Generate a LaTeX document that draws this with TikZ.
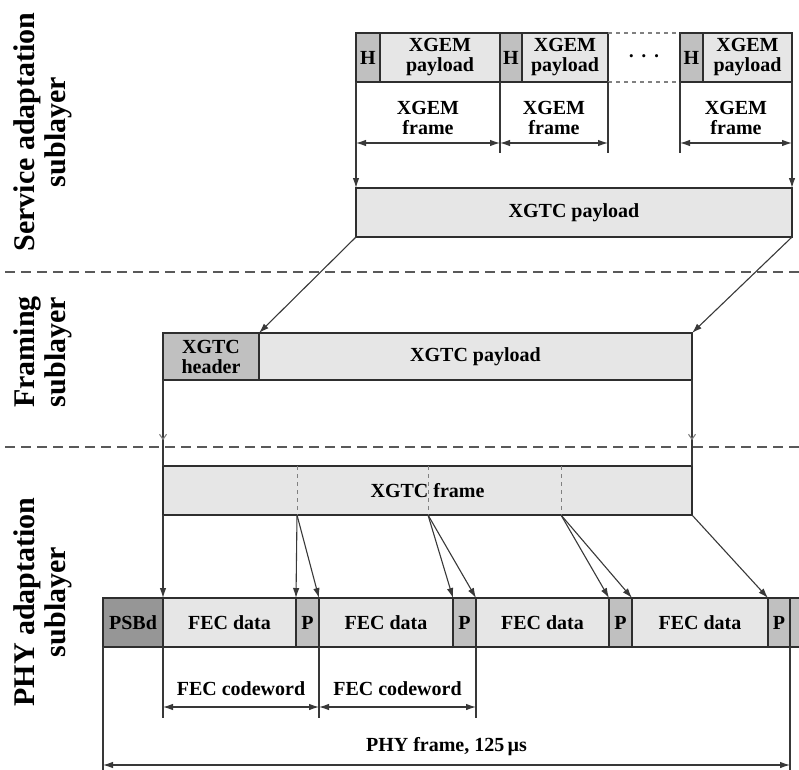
\documentclass[tikz,border=0pt]{standalone}
\usepackage{fontspec}
\setmainfont{Liberation Serif}
\usetikzlibrary{arrows.meta,positioning,decorations.markings}
\definecolor{seglight}{RGB}{230,230,230}
\definecolor{segmid}{RGB}{192,192,192}
\definecolor{segdark}{RGB}{150,150,150}

\begin{document}
\begin{tikzpicture}[
      x=1pt, y=-1pt,
      node distance=0pt,
      seg/.style={draw=black!82, line width=2pt, fill=seglight, inner sep=0pt, outer sep=0pt,
        minimum height=49pt, align=center, font=\fontsize{20}{20}\selectfont\bfseries},
      seghd/.style={seg, fill=segmid},
      segpre/.style={seg, fill=segdark},
      lbl/.style={inner sep=0pt, align=center, font=\fontsize{20}{20}\selectfont\bfseries},
      layer/.style={rotate=90, inner sep=0pt, align=center, font=\fontsize{30}{31}\selectfont\bfseries},
      conn/.style={draw=black!78, line width=1.1pt},
      arr/.style={conn, -{Latex[length=10pt,width=6.5pt]}},
      dimarr/.style={conn, {Latex[length=10pt,width=6.5pt]}-{Latex[length=10pt,width=6.5pt]}},
      sep/.style={draw=black!65, line width=1.6pt, dash pattern=on 10pt off 6pt},
      split/.style={draw=black!50, line width=0.8pt, dash pattern=on 4pt off 4pt},
      midarr/.style={conn, postaction={decorate}, decoration={markings,
        mark=at position 0.7 with {\arrow[black!50]{Straight Barb[length=5pt,width=7pt]}}}}
    ]
      \useasboundingbox (0,0) rectangle (799,769);

      \node[layer] (lsa) at (43,132) {Service adaptation\\sublayer};
      \node[layer] (lfr) at (43,352) {Framing\\sublayer};
      \node[layer] (lphy) at (43,602) {PHY adaptation\\sublayer};

      \draw[sep] (5,272) -- (799,272);
      \draw[sep] (5,447) -- (799,447);

      % service adaptation
      \node[seghd, minimum width=24pt, anchor=north west] (h1) at (356,33) {H};
      \node[seg, minimum width=120pt, right=of h1] (p1) {XGEM\\payload};
      \node[seghd, minimum width=22pt, right=of p1] (h2) {H};
      \node[seg, minimum width=86pt, right=of h2] (p2) {XGEM\\payload};
      \node[inner sep=0pt, outer sep=0pt, minimum width=72pt, minimum height=49pt, right=of p2] (dots)
        {\fontsize{13}{13}\selectfont\textbullet\hspace{8pt}\textbullet\hspace{8pt}\textbullet};
      \node[seghd, minimum width=23pt, right=of dots] (h3) {H};
      \node[seg, minimum width=89pt, right=of h3] (p3) {XGEM\\payload};
      \draw[split, line width=1.2pt] (dots.north west) -- (dots.north east);
      \draw[split, line width=1.2pt] (dots.south west) -- (dots.south east);

      \node[seg, minimum width=436pt, anchor=north west] (sapay) at (356,188) {XGTC payload};

      \coordinate (ya) at (0,143);
      \path (h2.south west) ++(0,71) coordinate (t2);
      \path (p2.south east) ++(0,71) coordinate (t3);
      \path (h3.south west) ++(0,71) coordinate (t4);
      \draw[arr] (h1.south west) -- (sapay.north west);
      \draw[arr] (p3.south east) -- (sapay.north east);
      \draw[conn] (h2.south west) -- (t2);
      \draw[conn] (p2.south east) -- (t3);
      \draw[conn] (h3.south west) -- (t4);
      \draw[dimarr] (h1.south west |- ya) -- node[lbl, above=8pt] (xf1) {XGEM\\frame} (t2 |- ya);
      \draw[dimarr] (t2 |- ya) -- node[lbl, above=8pt] (xf2) {XGEM\\frame} (t3 |- ya);
      \draw[dimarr] (t4 |- ya) -- node[lbl, above=8pt] (xf3) {XGEM\\frame} (p3.south east |- ya);

      % framing
      \node[seghd, minimum width=96pt, minimum height=47pt, anchor=north west] (hdr) at (163,333) {XGTC\\header};
      \node[seg, minimum width=433pt, minimum height=47pt, right=of hdr] (fpay) {XGTC payload};
      \draw[arr] (sapay.south west) -- (hdr.north east);
      \draw[arr] (sapay.south east) -- (fpay.north east);

      % PHY adaptation
      \node[seg, minimum width=529pt, anchor=north west] (frm) at (163,466) {XGTC frame};
      \draw[midarr] (hdr.south west) -- (frm.north west);
      \draw[midarr] (fpay.south east) -- (frm.north east);
      \path (frm.south west) ++(134,0) coordinate (c1);
      \path (frm.south west) ++(265,0) coordinate (c2);
      \path (frm.south west) ++(398,0) coordinate (c3);
      \draw[split] (c1 |- frm.north) -- (c1);
      \draw[split] (c2 |- frm.north) -- (c2);
      \draw[split] (c3 |- frm.north) -- (c3);

      \node[segpre, minimum width=60pt, anchor=north west] (psbd) at (103,598) {PSBd};
      \node[seg, minimum width=133pt, right=of psbd] (fec1) {FEC data};
      \node[seghd, minimum width=23pt, right=of fec1] (pp1) {P};
      \node[seg, minimum width=134pt, right=of pp1] (fec2) {FEC data};
      \node[seghd, minimum width=23pt, right=of fec2] (pp2) {P};
      \node[seg, minimum width=133pt, right=of pp2] (fec3) {FEC data};
      \node[seghd, minimum width=23pt, right=of fec3] (pp3) {P};
      \node[seg, minimum width=136pt, right=of pp3] (fec4) {FEC data};
      \node[seghd, minimum width=22pt, right=of fec4] (pp4) {P};
      \node[seghd, minimum width=14pt, right=of pp4] (nxt) {};

      \draw[arr] (frm.south west) -- (fec1.north west);
      \draw[arr] (c1) -- (pp1.north west);
      \draw[arr] (c1) -- (pp1.north east);
      \draw[arr] (c2) -- (pp2.north west);
      \draw[arr] (c2) -- (pp2.north east);
      \draw[arr] (c3) -- (pp3.north west);
      \draw[arr] (c3) -- (pp3.north east);
      \draw[arr] (frm.south east) -- (pp4.north west);

      \coordinate (yc) at (0,707);
      \coordinate (yd) at (0,765);
      \draw[conn] (fec1.south west) -- ++(0,71);
      \draw[conn] (pp1.south east) -- ++(0,71);
      \draw[conn] (pp2.south east) -- ++(0,71);
      \draw[dimarr] (fec1.south west |- yc) -- node[lbl, above=11pt] (cw1) {FEC codeword} (pp1.south east |- yc);
      \draw[dimarr] (pp1.south east |- yc) -- node[lbl, above=11pt] (cw2) {FEC codeword} (pp2.south east |- yc);

      \draw[conn] (psbd.south west) -- ++(0,125);
      \draw[conn] (pp4.south east) -- ++(0,125);
      \draw[dimarr] (psbd.south west |- yd) -- node[lbl, above=9pt] (phyf) {PHY frame, 125\,µs} (pp4.south east |- yd);
    \end{tikzpicture}
\end{document}
